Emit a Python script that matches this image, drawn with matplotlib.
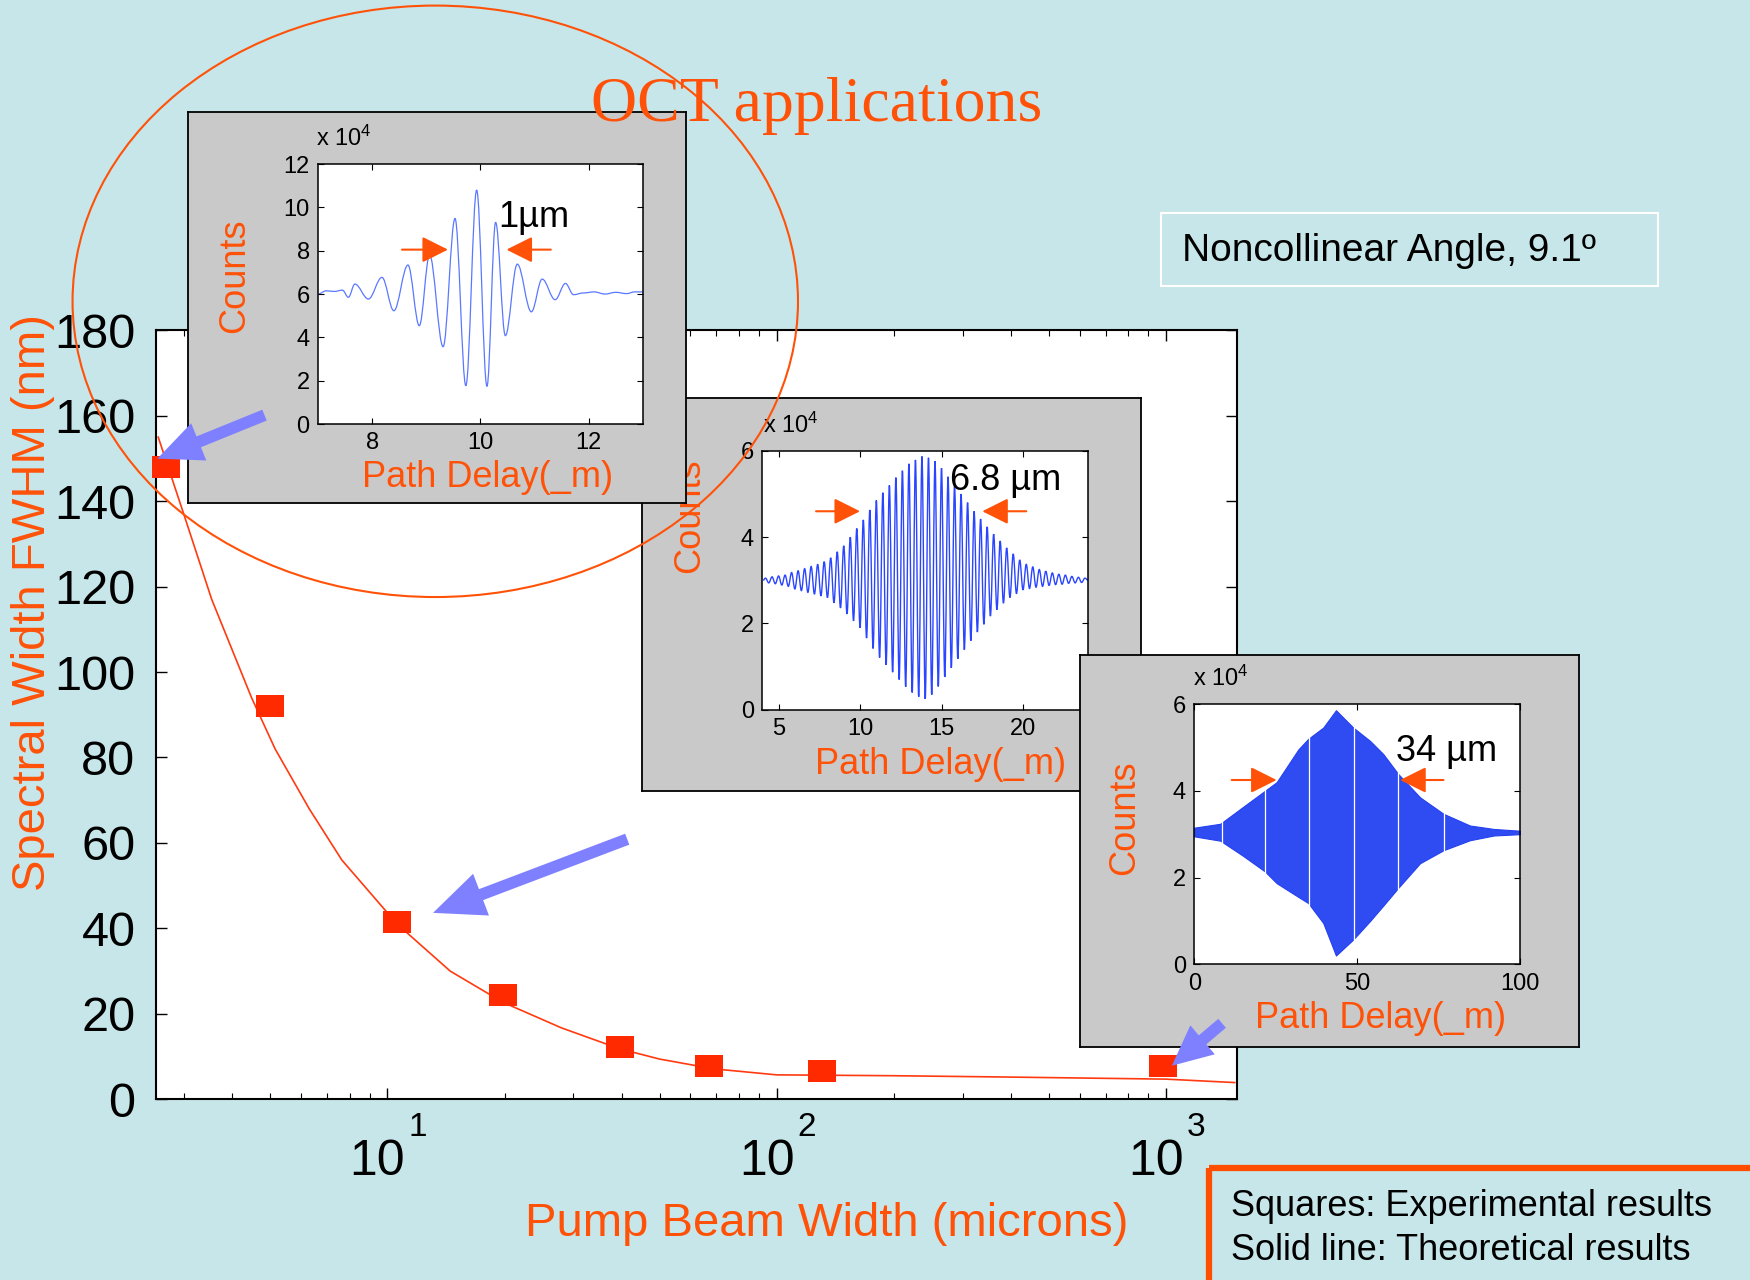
import numpy as np
import matplotlib
matplotlib.use('Agg')
import matplotlib.pyplot as plt
from matplotlib.patches import Ellipse, Rectangle, FancyArrow, PathPatch
from matplotlib.path import Path
from matplotlib import transforms

plt.rcParams['font.family'] = ['Liberation Sans', 'DejaVu Sans']
plt.rcParams['mathtext.fontset'] = 'custom'
plt.rcParams['mathtext.rm'] = 'Liberation Sans'
plt.rcParams['mathtext.it'] = 'Liberation Sans:italic'
plt.rcParams['mathtext.bf'] = 'Liberation Sans:bold'

# ---------------- main chart data ----------------
exp_width = [2.7, 5.0, 10.6, 19.8, 39.5, 67, 131, 980]
exp_fwhm = [148, 92, 41.5, 24.5, 12.3, 7.8, 6.5, 7.8]
theory_width = [2.58, 3.0, 3.54, 4.48, 5.15, 6.3, 7.64, 10.6, 14.5, 19.8, 28, 39.5,
                50, 69, 100, 200, 383, 1000, 1500]
theory_fwhm = [155, 137, 117, 94, 82, 68, 56, 41, 30, 22.7, 16.7, 11.8,
               9.4, 7.1, 5.7, 5.5, 5.2, 4.7, 3.9]
y_ticks = [0, 20, 40, 60, 80, 100, 120, 140, 160, 180]
x_major = [10, 100, 1000]
x_major_exp = ['1', '2', '3']

# ---------------- inset 1 (1 um) ----------------
i1_x = [7.0, 7.15, 7.3, 7.45, 7.56, 7.68, 7.93, 8.18, 8.40, 8.66, 8.87, 9.06, 9.31,
        9.53, 9.73, 9.93, 10.12, 10.28, 10.46, 10.68, 10.94, 11.14, 11.38, 11.57,
        11.72, 11.9, 12.1, 12.3, 12.5, 12.7, 12.85, 13.0]
i1_y = [6.0, 6.15, 6.12, 6.18, 5.85, 6.46, 5.77, 6.77, 5.23, 7.34, 4.54, 7.8, 3.57,
        9.49, 1.77, 10.8, 1.74, 9.31, 4.08, 7.38, 5.18, 6.69, 5.74, 6.49,
        5.97, 6.05, 6.1, 6.0, 6.08, 6.02, 6.1, 6.1]
i1_xticks = [8, 10, 12]
i1_yticks = [0, 2, 4, 6, 8, 10, 12]

# ---------------- inset 2 (6.8 um) fringe extrema ----------------
i2_peak_x = [4.2, 4.6, 5.0, 5.4, 5.8, 6.2, 6.6, 7.0, 7.4, 7.8, 8.2, 8.6, 9.0, 9.4, 9.8,
             10.2, 10.6, 11.0, 11.4, 11.8, 12.2, 12.6, 13.0, 13.4, 13.8, 14.2, 14.6,
             15.0, 15.4, 15.8, 16.2, 16.6, 17.0, 17.4, 17.8, 18.2, 18.6, 19.0, 19.4,
             19.8, 20.2, 20.6, 21.0, 21.4, 21.8, 22.2, 22.6, 23.0, 23.4, 23.8]
i2_peak_y = [3.05, 3.08, 3.1, 3.12, 3.18, 3.22, 3.27, 3.32, 3.37, 3.43, 3.52, 3.66, 3.8,
             4.0, 4.2, 4.4, 4.63, 4.85, 5.03, 5.2, 5.38, 5.54, 5.7, 5.79, 5.87, 5.84,
             5.76, 5.6, 5.4, 5.2, 5.0, 4.8, 4.6, 4.42, 4.24, 4.07, 3.91, 3.75, 3.61,
             3.47, 3.37, 3.31, 3.25, 3.21, 3.17, 3.14, 3.12, 3.09, 3.07, 3.05]
i2_trough_x = [4.4, 4.8, 5.2, 5.6, 6.0, 6.4, 6.8, 7.2, 7.6, 8.0, 8.4, 8.8, 9.2, 9.6,
               10.0, 10.4, 10.8, 11.2, 11.6, 12.0, 12.4, 12.8, 13.2, 13.6, 14.0, 14.4,
               14.8, 15.2, 15.6, 16.0, 16.4, 16.8, 17.2, 17.6, 18.0, 18.4, 18.8, 19.2,
               19.6, 20.0, 20.4, 20.8, 21.2, 21.6, 22.0, 22.4, 22.8, 23.2, 23.6]
i2_trough_y = [2.94, 2.92, 2.89, 2.86, 2.8, 2.76, 2.72, 2.68, 2.64, 2.6, 2.48, 2.36, 2.22,
               2.06, 1.9, 1.66, 1.42, 1.21, 1.04, 0.87, 0.7, 0.53, 0.4, 0.3, 0.25, 0.35,
               0.54, 0.76, 0.97, 1.18, 1.39, 1.6, 1.8, 1.98, 2.17, 2.32, 2.47, 2.6,
               2.69, 2.78, 2.81, 2.84, 2.86, 2.88, 2.9, 2.91, 2.93, 2.94, 2.95]
i2_xticks = [5, 10, 15, 20]
i2_yticks = [0, 2, 4, 6]

# ---------------- inset 3 (34 um) envelope ----------------
i3_x = [0, 8, 15, 21.7, 25.3, 32, 35, 39.6, 43.5, 48.8, 54, 58, 62.6, 69.3, 76.5, 84.6, 92, 100]
i3_upper = [3.15, 3.24, 3.63, 4.0, 4.2, 4.96, 5.2, 5.46, 5.86, 5.46, 5.15, 4.85, 4.39,
            3.85, 3.47, 3.2, 3.12, 3.08]
i3_lower = [2.95, 2.85, 2.5, 2.14, 1.87, 1.55, 1.41, 0.95, 0.2, 0.57, 1.0, 1.35, 1.76,
            2.33, 2.63, 2.86, 2.97, 3.0]
i3_gaps = [8.4, 21.7, 35.3, 49.0, 62.6, 76.5]
i3_xticks = [0, 50, 100]
i3_yticks = [0, 2, 4, 6]

# ---------------- styling ----------------
BG = '#C7E6E9'
ORANGE = '#FF5208'
RED = '#FF2A00'
GRAY = '#C9C9C9'
BLUEARROW = '#7F80FF'
W, H = 1568.0, 1147.0


def rect(x0, y0, x1, y1):
    return [x0 / W, 1 - y1 / H, (x1 - x0) / W, (y1 - y0) / H]


def smooth_wave(a, xs, ys, color, lw):
    """Draw the trace through the read extrema with rounded (bezier) fringes."""
    verts = [(xs[0], ys[0])]
    codes = [Path.MOVETO]
    for (x0, y0), (x1, y1) in zip(zip(xs[:-1], ys[:-1]), zip(xs[1:], ys[1:])):
        d = (x1 - x0) * 0.36
        verts += [(x0 + d, y0), (x1 - d, y1), (x1, y1)]
        codes += [Path.CURVE4] * 3
    a.add_patch(PathPatch(Path(verts, codes), fill=False, edgecolor=color, lw=lw))


fig = plt.figure(figsize=(17.5, 12.8), dpi=100, facecolor=BG)

# overlay axes in reference pixel coordinates (for annotations)
ov = fig.add_axes([0, 0, 1, 1], zorder=10)
ov.set_xlim(0, W)
ov.set_ylim(H, 0)
ov.axis('off')
ov.patch.set_alpha(0)

# ---------------- main axes ----------------
ax = fig.add_axes(rect(140, 296, 1108, 985), zorder=0)
ax.set_facecolor('white')
ax.set_xscale('log')
ax.set_xlim(2.55, 1517)
ax.set_ylim(0, 180)
ax.plot(theory_width, theory_fwhm, color='#FF3A10', lw=1.2, zorder=2)
mk = [(-1.25, -1), (1.25, -1), (1.25, 1), (-1.25, 1), (-1.25, -1)]
ax.plot(exp_width, exp_fwhm, ls='none', marker=mk, markersize=20, color=RED,
        markeredgewidth=0, zorder=3, clip_on=False)
ax.set_yticks(y_ticks)
ax.set_yticklabels([str(v) for v in y_ticks], fontsize=35)
ax.set_xticks(x_major)
ax.set_xticklabels([''] * len(x_major))
ax.tick_params(which='both', direction='in', top=True, right=True, color='black')
ax.tick_params(axis='y', which='major', length=8, width=1, pad=15)
ax.tick_params(axis='x', which='major', length=8, width=1)
ax.tick_params(axis='x', which='minor', length=4.5, width=0.8)
for s in ax.spines.values():
    s.set_linewidth(1.5)
blend = transforms.blended_transform_factory(ax.transData, ax.transAxes)
for xv, e in zip(x_major, x_major_exp):
    t1 = transforms.offset_copy(blend, fig=fig, x=-10, y=-63, units='dots')
    ax.text(xv, 0, '10', transform=t1, ha='center', va='center', fontsize=36, clip_on=False)
    t2 = transforms.offset_copy(blend, fig=fig, x=30, y=-28, units='dots')
    ax.text(xv, 0, e, transform=t2, ha='center', va='center', fontsize=24, clip_on=False)


# ---------------- insets ----------------
def make_inset(box, inner, z, xlim, ylim, xticks, yticks, counts_pos, path_pos, x10_pos):
    g = fig.add_axes(rect(*box), zorder=z)
    g.set_facecolor(GRAY)
    g.set_xticks([])
    g.set_yticks([])
    for s in g.spines.values():
        s.set_linewidth(1.3)
        s.set_color('black')
    a = fig.add_axes(rect(*inner), zorder=z + 0.5)
    a.set_facecolor('white')
    a.set_xlim(*xlim)
    a.set_ylim(*ylim)
    a.set_xticks(xticks)
    a.set_yticks(yticks)
    a.set_xticklabels([str(v) for v in xticks], fontsize=17)
    a.set_yticklabels([str(v) for v in yticks], fontsize=17)
    a.tick_params(direction='in', top=True, right=True, length=4, width=0.8, pad=6)
    for s in a.spines.values():
        s.set_linewidth(1.1)
    a.text(*counts_pos, 'Counts', transform=ov.transData, rotation=90, ha='center',
           va='center', fontsize=26, color=ORANGE, clip_on=False)
    a.text(*path_pos, 'Path Delay(_m)', transform=ov.transData, ha='center',
           va='center', fontsize=26, color=ORANGE, clip_on=False)
    a.text(*x10_pos, r'x $\mathregular{10^{4}}$', transform=ov.transData, ha='left',
           va='center', fontsize=17, color='black', clip_on=False)
    return a


def inset_arrows(a, y, left_tail, left_tip, right_tail, right_tip):
    for tail, tip in ((left_tail, left_tip), (right_tail, right_tip)):
        a.annotate('', xy=(tip, y), xytext=(tail, y),
                   arrowprops=dict(arrowstyle='-|>,head_length=0.8,head_width=0.4',
                                   color=ORANGE, lw=1.5, shrinkA=0, shrinkB=0,
                                   mutation_scale=20))


# inset 2 (lowest)
a2 = make_inset((575, 357, 1022, 709), (683, 404, 975, 636), 1, (4, 24), (0, 6),
                i2_xticks, i2_yticks, (618, 462), (843, 685), (684, 381))
pts = sorted(zip(i2_peak_x + i2_trough_x, i2_peak_y + i2_trough_y))
smooth_wave(a2, [4.05] + [p[0] for p in pts] + [24.0], [3.0] + [p[1] for p in pts] + [3.0],
            '#2A45FF', 1.0)
inset_arrows(a2, 4.6, 7.3, 10.0, 20.2, 17.5)
a2.text(15.5, 5.1, '6.8 µm', fontsize=26, color='black')

# inset 1
a1 = make_inset((168, 100, 615, 451), (285, 147, 576, 380), 3, (7, 13), (0, 12),
                i1_xticks, i1_yticks, (210, 247), (437, 428), (283, 124))
smooth_wave(a1, i1_x, i1_y, '#5A78FF', 0.9)
inset_arrows(a1, 8.05, 8.55, 9.4, 11.3, 10.48)
a1.text(10.33, 9.1, '1µm', fontsize=26, color='black')

# inset 3
a3 = make_inset((968, 587, 1415, 938), (1070, 631, 1362, 864), 3, (0, 100), (0, 6),
                i3_xticks, i3_yticks, (1008, 733), (1237, 913), (1069, 608))
a3.fill_between(i3_x, i3_lower, i3_upper, color='#2E4CF2', lw=0.8, edgecolor='#2440F0')
for gx in i3_gaps:
    a3.axvline(gx, color='white', lw=0.9)
inset_arrows(a3, 4.25, 11.5, 25.3, 76.5, 63.2)
a3.text(62, 4.7, '34 µm', fontsize=26, color='black')

# ---------------- overlay annotations ----------------
ov.text(732, 95, 'OCT applications', fontsize=46, color=ORANGE, ha='center', va='center',
        family=['Liberation Serif', 'DejaVu Serif'])
ov.add_patch(Ellipse((390, 270), 650, 530, fill=False, edgecolor=ORANGE, lw=1.5))

for (tx, ty, hx, hy, hw, hl) in [(237, 372, 141, 411, 36, 40),
                                 (562, 752, 388, 818, 40, 46),
                                 (1095, 917, 1050, 955, 34, 36)]:
    ov.add_patch(FancyArrow(tx, ty, hx - tx, hy - ty, width=10.5, head_width=hw,
                            head_length=hl, length_includes_head=True,
                            color=BLUEARROW, lw=0))

ov.add_patch(Rectangle((1040, 191), 446, 65, fill=False, edgecolor='white', lw=1.5))
ov.text(1059, 225, 'Noncollinear Angle, 9.1º', fontsize=28, ha='left', va='center',
        color='black')

ov.add_patch(Rectangle((1083, 1047), 520, 160, fill=False, edgecolor='#FF4E00', lw=4.5,
                       clip_on=False))
ov.text(1103, 1081, 'Squares: Experimental results', fontsize=26, ha='left', va='center')
ov.text(1103, 1121, 'Solid line: Theoretical results', fontsize=26, ha='left', va='center')

ov.text(30, 540, 'Spectral Width FWHM (nm)', rotation=90, fontsize=34, color=ORANGE,
        ha='center', va='center', family=['Liberation Sans Narrow', 'Liberation Sans'])
ov.text(741, 1097, 'Pump Beam Width (microns)', fontsize=34, color=ORANGE,
        ha='center', va='center', family=['Liberation Sans Narrow', 'Liberation Sans'])

fig.savefig('out.png', dpi=100, facecolor=BG)
